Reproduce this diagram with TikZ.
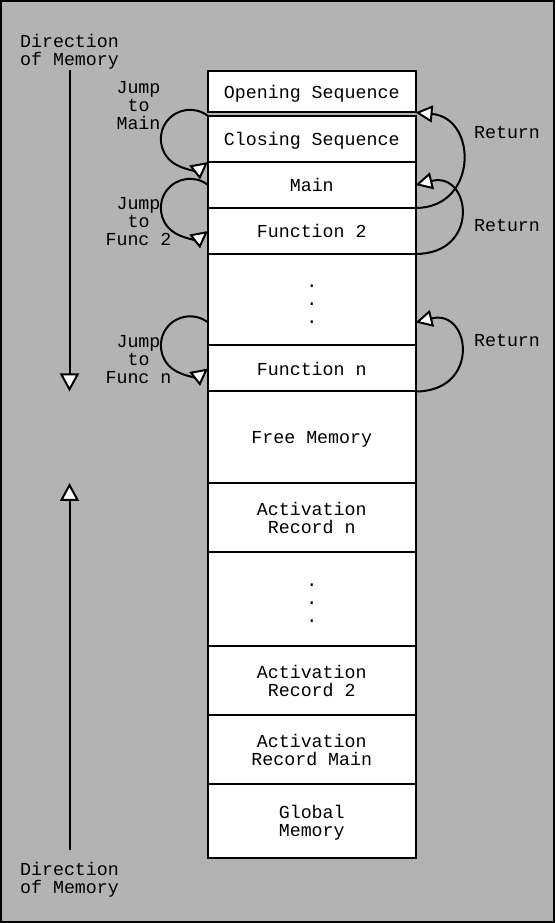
\documentclass[tikz,border=0pt]{standalone}
\usepackage{fontspec}
\setmainfont{Liberation Mono}
\usetikzlibrary{arrows.meta}
\definecolor{bggray}{RGB}{179,179,179}
\begin{document}
\begin{tikzpicture}[x=1pt,y=1pt,
  every node/.style={font=\fontsize{18.3pt}{18pt}\selectfont, inner sep=0pt, outer sep=0pt},
  cell/.style={draw, fill=white, line width=2pt, minimum width=207.5pt, align=center, text depth=0pt},
  lbl/.style={align=center},
  dotstext/.style={align=center, yshift=-4pt},
  conn/.style={line width=2pt, -{Triangle[length=17pt,width=17pt,fill=white]}},
  dirarrow/.style={line width=2pt, -{Triangle[length=18pt,width=19pt,fill=white]}}]
\useasboundingbox (0,0) rectangle (555,923);
\fill[bggray] (0,0) rectangle (555,923);
\draw[line width=2pt] (1,1) rectangle (554,922);

% memory cells
\node[cell, minimum height=41.5pt] (opening) at (311.75,831.25) {Opening Sequence};
\node[cell, minimum height=46pt]   (closing) at (311.75,784) {Closing Sequence};
\node[cell, minimum height=46pt]   (main)    at (311.75,738) {Main};
\node[cell, minimum height=46pt]   (func2)   at (311.75,692) {Function 2};
\node[cell, minimum height=91.5pt, label={[dotstext]center:{.\\.\\.}}] (dotsa) at (311.75,623.25) {};
\node[cell, minimum height=46pt]   (funcn)   at (311.75,554.5) {Function n};
\node[cell, minimum height=91.5pt] (free)    at (311.75,485.75) {Free Memory};
\node[cell, minimum height=69.5pt] (arn)     at (311.75,405.25) {Activation\\Record n};
\node[cell, minimum height=93.5pt, label={[dotstext]center:{.\\.\\.}}] (dotsb) at (311.75,323.75) {};
\node[cell, minimum height=69pt]   (artwo)   at (311.75,242.5) {Activation\\Record 2};
\node[cell, minimum height=69pt]   (armain)  at (311.75,173.5) {Activation\\Record Main};
\node[cell, minimum height=74.5pt] (global)  at (311.75,101.75) {Global\\Memory};

% direction of memory
\node[lbl] (dtop) at (69.5,871) {Direction\\of Memory};
\node[lbl] (dbot) at (69.5,43) {Direction\\of Memory};
\draw[dirarrow] (dtop.south) -- (dtop.south |- funcn.south);
\draw[dirarrow] ([yshift=12pt]dbot.north) -- (dbot.north |- free.south);

% jump labels
\node[lbl] (jmain) at (138.5,817) {Jump\\to\\Main};
\node[lbl] (jfunc2) at (138.5,701) {Jump\\to\\Func 2};
\node[lbl] (jfuncn) at (138.5,563) {Jump\\to\\Func n};

% return labels
\node (ret1) at (507,790) {Return};
\node (ret2) at (507,697) {Return};
\node (ret3) at (507,582) {Return};

% jump loops
\coordinate (jnstart) at ([yshift=46pt]funcn.west);
\draw[conn] (closing.north west) arc[start angle=52, end angle=308, radius=29.2];
\draw[conn] (main.west) arc[start angle=52, end angle=308, radius=29.2];
\draw[conn] (jnstart) arc[start angle=52, end angle=308, radius=29.2];

% return loops
\coordinate (rnend) at ([yshift=46pt]funcn.east);
\draw[conn] (main.south east) .. controls +(62.5,0) and +(62.5,-5.5) .. (opening.south east);
\draw[conn] (func2.south east) .. controls +(65.5,0) and +(55.5,14) .. (main.east);
\draw[conn] (funcn.south east) .. controls +(65.5,0) and +(55.5,14) .. (rnend);
\end{tikzpicture}
\end{document}
